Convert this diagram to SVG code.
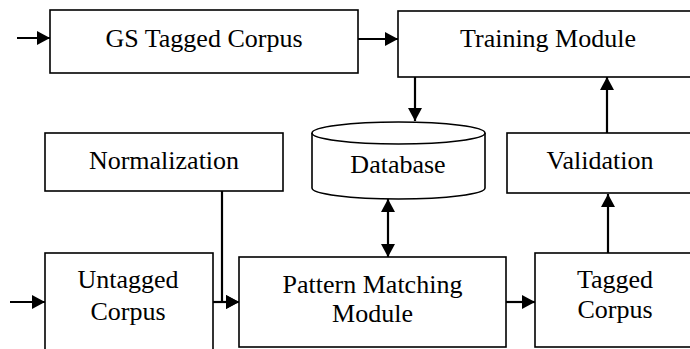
<svg xmlns="http://www.w3.org/2000/svg" width="690" height="349" viewBox="0 0 690 349">
  <style>
    .box { fill: #fff; stroke: #000; stroke-width: 1.6; }
    .lbl { font-family: 'Liberation Serif', 'Times New Roman', Times, 'DejaVu Serif', serif; font-size: 26px; fill: #000; text-anchor: middle; }
    .wire { fill: none; stroke: #000; stroke-width: 2.2; }
  </style>
  <defs>
    <marker id="head" markerUnits="userSpaceOnUse" markerWidth="13" markerHeight="14" refX="13" refY="7" orient="auto-start-reverse">
      <path d="M0,0 L13,7 L0,14 z" fill="#000"/>
    </marker>
  </defs>

  <rect width="690" height="349" fill="#fff"/>

  <g id="gs-tagged-corpus">
    <rect class="box" x="50" y="10" width="308" height="63"/>
    <text class="lbl" x="204" y="47">GS Tagged Corpus</text>
  </g>

  <g id="training-module">
    <rect class="box" x="398" y="11" width="300" height="66"/>
    <text class="lbl" x="548" y="47">Training Module</text>
  </g>

  <g id="normalization">
    <rect class="box" x="45" y="133" width="238" height="58"/>
    <text class="lbl" x="164" y="169">Normalization</text>
  </g>

  <g id="database">
    <path class="box" d="M312,133 L312,188 A86.5,11 0 0 0 485,188 L485,133 A86.5,11 0 0 0 312,133 Z"/>
    <path class="box" d="M312,133 A86.5,11 0 0 0 485,133" fill="none"/>
    <text class="lbl" x="398" y="173">Database</text>
  </g>

  <g id="validation">
    <rect class="box" x="507" y="133" width="190" height="60"/>
    <text class="lbl" x="600" y="169">Validation</text>
  </g>

  <g id="untagged-corpus">
    <rect class="box" x="45" y="253" width="168" height="110"/>
    <text class="lbl" x="128" y="288">Untagged</text>
    <text class="lbl" x="128" y="320">Corpus</text>
  </g>

  <g id="pattern-matching-module">
    <rect class="box" x="239" y="257" width="267" height="90"/>
    <text class="lbl" x="372.5" y="293">Pattern Matching</text>
    <text class="lbl" x="372.5" y="322">Module</text>
  </g>

  <g id="tagged-corpus">
    <rect class="box" x="535" y="253" width="160" height="94"/>
    <text class="lbl" x="615" y="288">Tagged</text>
    <text class="lbl" x="615" y="318">Corpus</text>
  </g>

  <g id="connectors">
    <line class="wire" x1="17" y1="38" x2="50" y2="38" marker-end="url(#head)"/>
    <line class="wire" x1="358" y1="39" x2="398" y2="39" marker-end="url(#head)"/>
    <line class="wire" x1="415" y1="77" x2="415" y2="121" marker-end="url(#head)"/>
    <line class="wire" x1="388" y1="199" x2="388" y2="257" marker-start="url(#head)" marker-end="url(#head)"/>
    <line class="wire" x1="607" y1="133" x2="607" y2="77" marker-end="url(#head)"/>
    <line class="wire" x1="608" y1="253" x2="608" y2="194" marker-end="url(#head)"/>
    <polyline class="wire" points="222,191 222,302 239,302" marker-end="url(#head)"/>
    <line class="wire" x1="213" y1="302" x2="239" y2="302" marker-end="url(#head)"/>
    <line class="wire" x1="10" y1="302" x2="45" y2="302" marker-end="url(#head)"/>
    <line class="wire" x1="506" y1="302" x2="535" y2="302" marker-end="url(#head)"/>
  </g>
</svg>
